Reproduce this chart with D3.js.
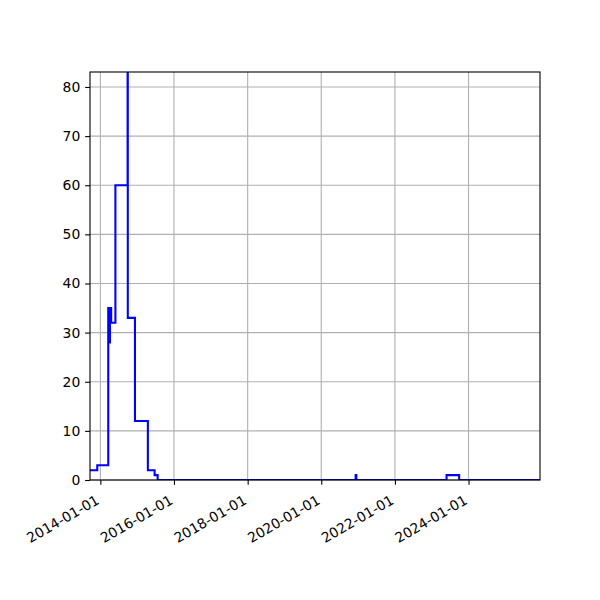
<!DOCTYPE html>
<html>
<head>
<meta charset="utf-8">
<script src="https://cdn.jsdelivr.net/npm/d3@7"></script>
<style>
  body { margin: 0; background: #fff; }
  text { font-family: "DejaVu Sans", sans-serif; }
</style>
</head>
<body>
<div class="chart"></div>
<script>
// step series (value holds until next date)
const dates = ["2013-09-20", "2013-12-01", "2014-03-20", "2014-03-28", "2014-04-06", "2014-04-18",
  "2014-05-30", "2014-09-28", "2014-09-30", "2014-12-10", "2015-04-17", "2015-06-23",
  "2015-07-23", "2020-12-07", "2020-12-14", "2023-05-28", "2023-09-30", "2025-12-10"];
const values = [2, 3, 35, 28, 35, 32, 60, 95, 33, 12, 2, 1, 0, 1, 0, 1, 0, 0];

const xTicks = ["2014-01-01", "2016-01-01", "2018-01-01", "2020-01-01", "2022-01-01", "2024-01-01"];
const yTicks = [0, 10, 20, 30, 40, 50, 60, 70, 80];

const width = 600;
const height = 600;
const margin = {top: 72, right: 60, bottom: 120, left: 90};

const parse = d3.timeParse("%Y-%m-%d");
const data = dates.map((d, i) => ({date: parse(d), value: values[i]}));

const svg = d3.select(".chart")
  .append("svg")
  .attr("width", width)
  .attr("height", height);

const x = d3.scaleTime()
  .domain([parse("2013-09-20"), parse("2025-12-10")])
  .range([margin.left, width - margin.right]);

const y = d3.scaleLinear()
  .domain([0, 83.05])
  .range([height - margin.bottom, margin.top]);

// grid
svg.append("g")
  .attr("stroke", "#b0b0b0")
  .attr("stroke-width", 1.1)
  .selectAll("line.gx")
  .data(xTicks)
  .join("line")
  .attr("x1", d => x(parse(d)))
  .attr("x2", d => x(parse(d)))
  .attr("y1", margin.top)
  .attr("y2", height - margin.bottom);

svg.append("g")
  .attr("stroke", "#b0b0b0")
  .attr("stroke-width", 1.1)
  .selectAll("line.gy")
  .data(yTicks)
  .join("line")
  .attr("x1", margin.left)
  .attr("x2", width - margin.right)
  .attr("y1", d => y(d))
  .attr("y2", d => y(d));

svg.append("clipPath")
  .attr("id", "clip")
  .append("rect")
  .attr("x", margin.left)
  .attr("y", margin.top)
  .attr("width", width - margin.left - margin.right)
  .attr("height", height - margin.top - margin.bottom);

const line = d3.line()
  .x(d => x(d.date))
  .y(d => y(d.value))
  .curve(d3.curveStepAfter);

svg.append("path")
  .datum(data)
  .attr("clip-path", "url(#clip)")
  .attr("fill", "none")
  .attr("stroke", "#0000ff")
  .attr("stroke-width", 2.08)
  .attr("d", line);

// axes
const xAxis = g => g
  .attr("transform", `translate(0, ${height - margin.bottom})`)
  .call(d3.axisBottom(x)
    .tickValues(xTicks.map(parse))
    .tickFormat(d3.timeFormat("%Y-%m-%d"))
    .tickSize(4.86)
    .tickPadding(3))
  .call(g => g.select(".domain").remove())
  .call(g => g.selectAll(".tick line").attr("stroke", "#000").attr("stroke-width", 1.1))
  .call(g => g.selectAll(".tick text")
    .attr("fill", "#000")
    .attr("font-size", 13.9)
    .attr("text-anchor", "end")
    .attr("y", 0)
    .attr("dy", 0)
    .attr("transform", "translate(-0.6, 23) rotate(-30)"));

const yAxis = g => g
  .attr("transform", `translate(${margin.left}, 0)`)
  .call(d3.axisLeft(y)
    .tickValues(yTicks)
    .tickSize(4.86)
    .tickPadding(4.86))
  .call(g => g.select(".domain").remove())
  .call(g => g.selectAll(".tick line").attr("stroke", "#000").attr("stroke-width", 1.1))
  .call(g => g.selectAll(".tick text").attr("fill", "#000").attr("font-size", 13.9));

svg.append("g").call(xAxis);
svg.append("g").call(yAxis);

// frame
svg.append("rect")
  .attr("x", margin.left)
  .attr("y", margin.top)
  .attr("width", width - margin.left - margin.right)
  .attr("height", height - margin.top - margin.bottom)
  .attr("fill", "none")
  .attr("stroke", "#000")
  .attr("stroke-width", 1.1);
</script>
</body>
</html>
